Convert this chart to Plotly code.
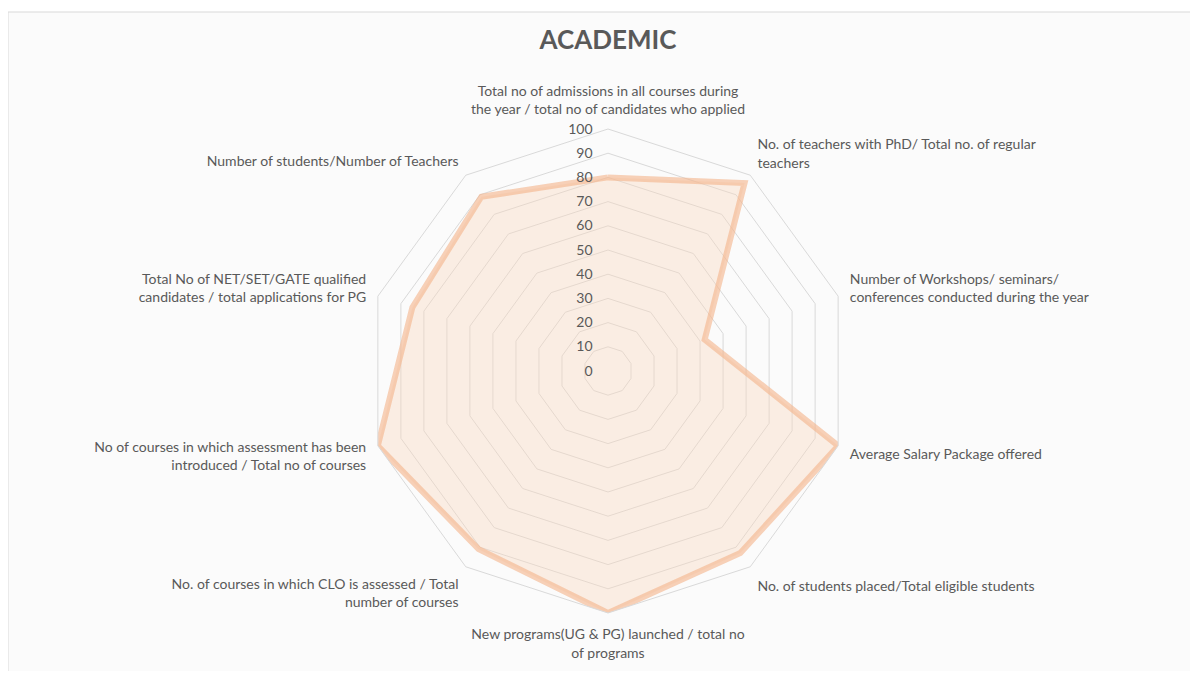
import plotly.graph_objects as go

title_text = "ACADEMIC"
categories = [
    "Total no of admissions in all courses during<br>the year / total no of candidates who applied",
    "No. of teachers with PhD/ Total no. of regular<br>teachers",
    "Number of Workshops/ seminars/<br>conferences conducted during the year",
    "Average Salary Package offered",
    "No. of students placed/Total eligible students",
    "New programs(UG & PG) launched / total no<br>of programs",
    "No. of courses in which CLO is assessed / Total<br>number of courses",
    "No of courses in which assessment has been<br>introduced / Total no of courses",
    "Total No of NET/SET/GATE qualified<br>candidates / total applications for PG",
    "Number of students/Number of Teachers",
]
values = [80, 96, 42, 100, 93, 100, 91, 100, 85, 89]
radial_ticks = [0, 10, 20, 30, 40, 50, 60, 70, 80, 90, 100]

# page body has an 8px margin, so the figure is laid out in shifted coordinates
OFF = 8
W, H = 1198 - 2 * OFF, 679 - 2 * OFF
cx, cy, R = 608 - OFF, 371 - OFF, 242

fig = go.Figure()
fig.add_trace(go.Scatterpolar(
    r=values + values[:1],
    theta=categories + categories[:1],
    mode="lines",
    fill="toself",
    fillcolor="rgba(250,215,190,0.38)",
    line=dict(color="rgba(244,180,140,0.62)", width=6),
    hoverinfo="r+theta",
    showlegend=False,
))

fig.update_layout(
    width=W, height=H,
    margin=dict(l=0, r=0, t=0, b=0),
    paper_bgcolor="white",
    font=dict(family="Lato, 'Open Sans', sans-serif", color="#595959"),
    title=dict(text="<b>" + title_text + "</b>", x=(608 - OFF) / W, xanchor="center",
               y=1 - (40 - OFF) / H, yanchor="middle",
               font=dict(size=26, color="#595959")),
    polar=dict(
        domain=dict(x=[(cx - R) / W, (cx + R) / W],
                    y=[(H - cy - R) / H, (H - cy + R) / H]),
        bgcolor="rgba(0,0,0,0)",
        gridshape="linear",
        radialaxis=dict(
            range=[0, 100], tickvals=radial_ticks,
            ticktext=[str(v) for v in radial_ticks],
            angle=90, tickangle=90, side="counterclockwise",
            showline=False, ticks="outside", ticklen=10, tickcolor="rgba(0,0,0,0)",
            showgrid=True, gridcolor="#d9d9d9", gridwidth=1,
            tickfont=dict(size=14, color="#595959"),
        ),
        angularaxis=dict(
            direction="clockwise", rotation=90,
            showgrid=False, showline=True, linecolor="#d9d9d9", linewidth=1,
            ticks="outside", ticklen=9, tickcolor="rgba(0,0,0,0)",
            tickfont=dict(size=14, color="#595959"),
        ),
    ),
    shapes=[dict(type="rect", xref="paper", yref="paper",
                 x0=0, x1=(1196 - OFF) / W, y0=1 - (676 - OFF) / H, y1=1 - (12 - OFF) / H,
                 line=dict(color="#d9d9d9", width=1),
                 fillcolor="#fbfbfb", layer="below")],
)

fig.write_html("out.html")
